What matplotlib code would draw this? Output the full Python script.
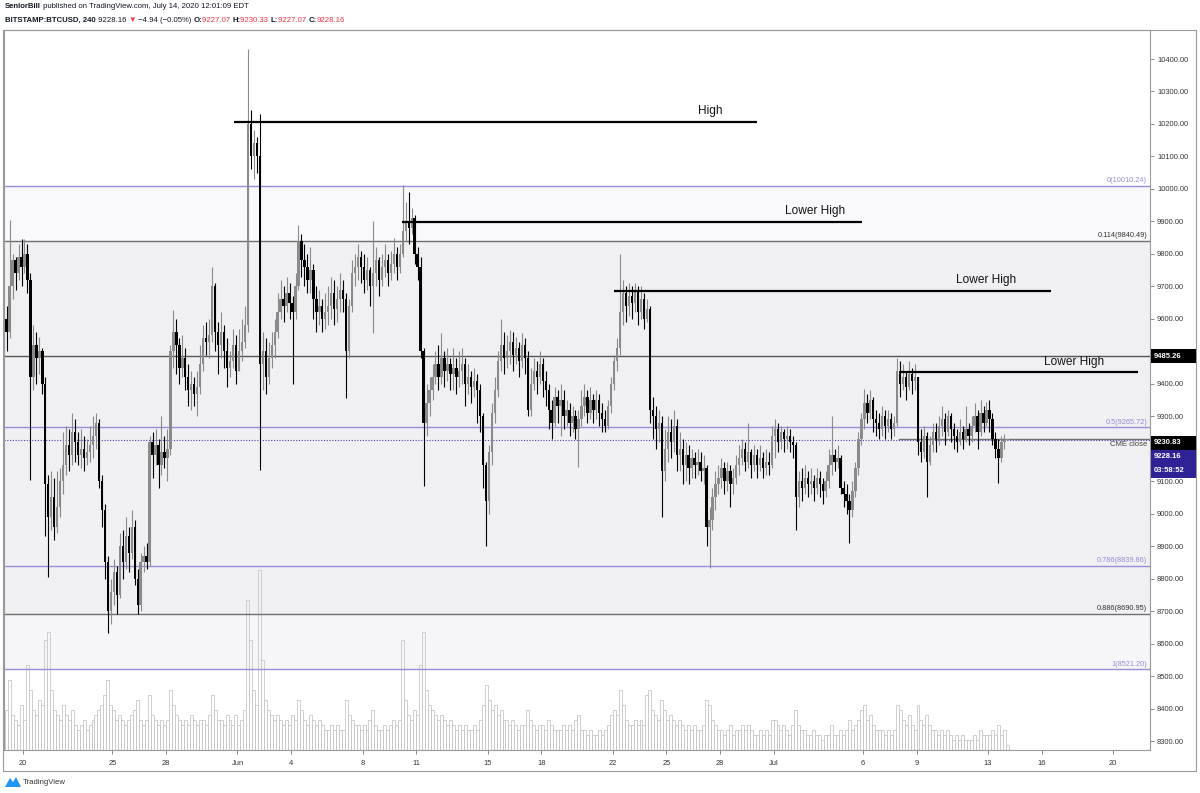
import matplotlib
matplotlib.use("Agg")
import matplotlib.pyplot as plt
import matplotlib.transforms as mtransforms
from matplotlib.patches import Rectangle, Polygon

plt.rcParams['font.family'] = ['Liberation Sans', 'DejaVu Sans']

W, H = 1200, 793

# BITSTAMP:BTCUSD, 240 -- 4h candles from May 19 00:00, six per day (one row = one day)
first_open = 9600
close = [
    9560, 9700, 9780, 9740, 9790, 9760,
    9800, 9720, 9420, 9520, 9480, 9500,
    9400, 9090, 8990, 9050, 8960, 9020,
    9100, 9150, 9210, 9180, 9250, 9220,
    9180, 9200, 9170, 9190, 9210, 9240,
    9280, 9100, 9010, 8850, 8700, 8760,
    8820, 8750, 8900, 8850, 8930, 8880,
    8960, 8800, 8720, 8850, 8870, 8850,
    9220, 9180, 9210, 9150, 9190, 9170,
    9200, 9500, 9560, 9520, 9450, 9480,
    9420, 9380, 9400, 9370, 9390, 9460,
    9540, 9530, 9550, 9700, 9560, 9520,
    9560, 9500, 9450, 9470, 9520, 9440,
    9500, 9530, 9580, 10200, 10100, 10140,
    10100, 9460, 9500, 9420, 9480, 9520,
    9560, 9620, 9660, 9640, 9680, 9650,
    9620, 9700, 9840, 9780, 9760, 9720,
    9750, 9660, 9620, 9640, 9600, 9620,
    9640, 9680, 9630, 9660, 9690, 9660,
    9500, 9640, 9740, 9760, 9790, 9760,
    9720, 9750, 9700, 9740, 9780, 9720,
    9760, 9780, 9740, 9770, 9800, 9760,
    9800, 9870, 9900, 9880, 9910, 9800,
    9760, 9500, 9280, 9340, 9380, 9420,
    9460, 9420, 9480, 9440, 9460, 9430,
    9450, 9420, 9440, 9460, 9400, 9420,
    9390, 9410, 9380, 9300, 9150, 9040,
    9190, 9310, 9380, 9470, 9520, 9480,
    9500, 9530, 9490, 9510, 9470, 9520,
    9480, 9320, 9400, 9440, 9420, 9460,
    9410, 9380, 9320, 9280, 9360, 9330,
    9350, 9300, 9320, 9280, 9300, 9260,
    9290, 9330, 9360, 9310, 9350, 9320,
    9350, 9310, 9290, 9270, 9330, 9400,
    9470, 9510, 9620, 9680, 9640, 9670,
    9650, 9690, 9620, 9660, 9600, 9630,
    9320, 9300, 9260, 9280, 9130, 9200,
    9250, 9220, 9270, 9180, 9200, 9150,
    9180, 9140, 9170, 9150, 9160, 9130,
    9140, 8960, 8980, 9050, 9090, 9110,
    9140, 9100, 9130, 9090, 9110, 9150,
    9170, 9200, 9160, 9190, 9150, 9180,
    9150, 9170, 9140, 9160, 9150, 9240,
    9260, 9220, 9250, 9230, 9240, 9220,
    9210, 9050, 9100, 9080, 9110, 9090,
    9100, 9080, 9110, 9090, 9070, 9100,
    9150, 9180, 9160, 9170, 9080, 9060,
    9040, 9010, 9070, 9140, 9230, 9290,
    9340, 9310, 9350, 9290, 9280, 9260,
    9300, 9270, 9290, 9260, 9280, 9440,
    9400, 9420, 9390, 9430, 9410, 9420,
    9220, 9190, 9240, 9160, 9210, 9250,
    9230, 9270, 9290, 9250, 9300, 9260,
    9240, 9220, 9250, 9230, 9260, 9240,
    9270, 9300, 9250, 9310, 9280, 9320,
    9290, 9230, 9200, 9170, 9220, 9227.07,
    9228.16,
]
high = [
    9640, 9905, 9800, 9790, 9830, 9846,
    9846, 9830, 9740, 9580, 9560, 9545,
    9510, 9420, 9120, 9130, 9110, 9130,
    9140, 9250, 9270, 9260, 9310, 9290,
    9250, 9260, 9240, 9230, 9270, 9300,
    9310, 9290, 9120, 9030, 8870, 8800,
    8860, 8840, 8940, 8950, 8990, 8960,
    9010, 8980, 8830, 8880, 8900, 8910,
    9240, 9250, 9260, 9230, 9300, 9240,
    9260, 9520, 9627, 9600, 9540, 9550,
    9510, 9460, 9440, 9420, 9440, 9520,
    9580, 9590, 9600, 9760, 9710, 9590,
    9620, 9580, 9540, 9500, 9570, 9550,
    9570, 9600, 9640, 10430, 10243, 10180,
    10160, 10230, 9560, 9540, 9530, 9560,
    9600, 9680, 9720, 9700, 9730, 9710,
    9670, 9740, 9890, 9860, 9830, 9800,
    9820, 9770, 9700, 9690, 9660, 9680,
    9700, 9730, 9720, 9700, 9740, 9720,
    9680, 9660, 9780, 9800, 9830, 9810,
    9800, 9790, 9760, 9900, 9820, 9790,
    9800, 9830, 9800, 9810, 9850, 9820,
    9830, 10012, 9960, 9990, 9940, 9920,
    9820, 9790, 9510, 9400, 9420, 9460,
    9500, 9520, 9556, 9500, 9510, 9480,
    9510, 9480, 9500, 9510, 9480, 9460,
    9440, 9450, 9430, 9400, 9310, 9160,
    9210, 9340, 9420, 9500, 9600, 9560,
    9550, 9565, 9560, 9545, 9530, 9555,
    9540, 9500, 9450, 9480, 9470, 9500,
    9480, 9440, 9400, 9350, 9390, 9380,
    9400, 9380, 9350, 9340, 9330, 9320,
    9320, 9380, 9400, 9380, 9390, 9370,
    9380, 9370, 9340, 9320, 9350, 9420,
    9490, 9540, 9800, 9720, 9700, 9710,
    9700, 9710, 9700, 9700, 9680, 9660,
    9640, 9360, 9330, 9320, 9300, 9260,
    9300, 9290, 9320, 9290, 9250, 9230,
    9220, 9210, 9200, 9190, 9200, 9190,
    9180, 9150, 9020, 9080, 9130, 9150,
    9170, 9160, 9160, 9150, 9140, 9180,
    9210, 9230, 9220, 9280, 9200, 9210,
    9200, 9210, 9190, 9200, 9190, 9270,
    9290, 9280, 9270, 9260, 9270, 9260,
    9240, 9220, 9130, 9140, 9150, 9130,
    9140, 9120, 9140, 9130, 9110, 9130,
    9200, 9300, 9200, 9210, 9180, 9100,
    9090, 9060, 9100, 9160, 9250, 9310,
    9385, 9370, 9380, 9360, 9320, 9310,
    9330, 9320, 9320, 9310, 9300, 9480,
    9470, 9460, 9440, 9470, 9450, 9460,
    9420, 9260, 9270, 9250, 9240, 9280,
    9280, 9300, 9330, 9310, 9320, 9310,
    9280, 9260, 9290, 9270, 9330, 9280,
    9300, 9340, 9320, 9350, 9330, 9345,
    9350, 9310, 9250, 9230, 9240, 9245,
    9230.33,
]
low = [
    9500, 9540, 9660, 9690, 9720, 9700,
    9740, 9680, 9105, 9380, 9400, 9430,
    9370, 8930, 8805, 8950, 8920, 8940,
    8990, 9060, 9120, 9130, 9150, 9160,
    9150, 9140, 9130, 9150, 9160, 9170,
    9200, 9080, 8960, 8800, 8632, 8660,
    8720, 8690, 8740, 8800, 8830, 8820,
    8860, 8780, 8690, 8700, 8820, 8830,
    8840, 9110, 9150, 9080, 9120, 9140,
    9100, 9180, 9450, 9430, 9400, 9420,
    9380, 9330, 9320, 9330, 9300, 9370,
    9440, 9490, 9480, 9530, 9500, 9430,
    9480, 9450, 9390, 9420, 9450, 9400,
    9460, 9470, 9510, 9560, 10060, 10030,
    10050, 9135, 9380, 9370, 9400, 9450,
    9480, 9540, 9600, 9590, 9620, 9600,
    9400, 9600, 9690, 9730, 9700, 9680,
    9680, 9600, 9560, 9580, 9560, 9570,
    9580, 9600, 9580, 9590, 9620, 9620,
    9356, 9480, 9620, 9700, 9720, 9710,
    9680, 9690, 9640, 9555, 9700, 9670,
    9700, 9730, 9700, 9720, 9740, 9720,
    9740, 9790, 9840, 9830, 9860, 9770,
    9720, 9480, 9085, 9240, 9300, 9350,
    9400, 9380, 9400, 9390, 9410, 9380,
    9380, 9370, 9390, 9400, 9330, 9370,
    9340, 9360, 9280, 9250, 9080, 8900,
    9000, 9150, 9280, 9360, 9440, 9430,
    9450, 9460, 9440, 9460, 9420, 9450,
    9430, 9300, 9300, 9380, 9370, 9400,
    9360, 9330, 9260, 9230, 9270, 9280,
    9240, 9260, 9270, 9240, 9250, 9230,
    9145, 9270, 9300, 9280, 9290, 9280,
    9290, 9270, 9250, 9250, 9260, 9310,
    9380, 9440, 9490, 9580, 9590, 9610,
    9600, 9620, 9580, 9600, 9570, 9590,
    9280, 9230, 9200, 9220, 8990, 9100,
    9160, 9170, 9190, 9130, 9130, 9090,
    9100, 9090, 9110, 9110, 9120, 9100,
    9090, 8900, 8833, 8950, 9010, 9060,
    9080, 9060, 9070, 9020, 9060, 9090,
    9120, 9150, 9130, 9140, 9110, 9130,
    9110, 9130, 9110, 9120, 9120, 9140,
    9170, 9190, 9200, 9190, 9200, 9190,
    9170, 8950, 9020, 9040, 9060, 9050,
    9060, 9040, 9060, 9050, 9030, 9050,
    9080, 9120, 9130, 9140, 9060, 9020,
    9000, 8910, 8990, 9050, 9120, 9210,
    9260, 9280, 9290, 9250, 9240, 9230,
    9240, 9230, 9250, 9230, 9240, 9270,
    9360, 9380, 9350, 9380, 9370, 9380,
    9180, 9160, 9170, 9050, 9150, 9190,
    9190, 9210, 9240, 9210, 9240, 9220,
    9200, 9190, 9210, 9200, 9220, 9210,
    9220, 9250, 9200, 9240, 9250, 9270,
    9250, 9210, 9170, 9095, 9160, 9200,
    9227.07,
]
# volume (relative units)
volume = [
    40, 70, 35, 30, 25, 45,
    30, 85, 60, 40, 35, 50,
    45, 110, 118, 60, 40, 35,
    30, 45, 35, 30, 40, 25,
    20, 25, 30, 20, 25, 30,
    35, 40, 45, 55, 70, 45,
    40, 30, 35, 30, 25, 30,
    35, 40, 50, 30, 25, 30,
    55, 35, 30, 25, 30, 25,
    30, 60, 45, 35, 30, 25,
    30, 25, 35, 30, 25, 30,
    30, 25, 35, 55, 40, 30,
    30, 25, 35, 30, 25, 35,
    25, 30, 40, 150, 110, 60,
    45, 180, 90, 50, 40, 35,
    30, 35, 30, 25, 30, 25,
    35, 30, 50, 40, 30, 25,
    35, 30, 25, 30, 25, 20,
    20, 25, 20, 25, 20, 20,
    50, 35, 30, 25, 25, 20,
    25, 20, 30, 40, 25, 20,
    20, 25, 20, 25, 30, 25,
    30, 110, 50, 35, 30, 40,
    35, 85, 118, 60, 45, 40,
    35, 30, 35, 30, 25, 30,
    25, 20, 25, 20, 25, 20,
    20, 25, 20, 30, 45, 65,
    50, 40, 45, 35, 40, 30,
    30, 25, 30, 25, 20, 25,
    25, 40, 30, 25, 20, 25,
    25, 20, 30, 25, 20, 20,
    20, 25, 20, 25, 20, 30,
    35, 20, 20, 15, 20, 15,
    15, 20, 15, 20, 25, 35,
    40, 35, 60, 45, 30, 25,
    25, 30, 25, 30, 25, 55,
    60, 40, 35, 30, 50, 40,
    30, 35, 30, 25, 30, 25,
    20, 25, 20, 25, 20, 20,
    25, 50, 45, 30, 25, 20,
    20, 15, 20, 25, 15, 20,
    20, 25, 20, 25, 20, 15,
    15, 20, 15, 20, 15, 30,
    30, 25, 20, 25, 20, 15,
    25, 40, 25, 20, 20, 15,
    15, 20, 15, 15, 10, 15,
    15, 25, 15, 15, 20, 15,
    20, 30, 20, 25, 30, 40,
    45, 30, 35, 25, 20, 20,
    20, 15, 20, 15, 20, 45,
    40, 30, 25, 35, 25, 20,
    45, 30, 25, 35, 25, 20,
    20, 15, 20, 15, 20, 15,
    10, 15, 10, 15, 10, 10,
    10, 15, 10, 20, 15, 15,
    15, 20, 15, 25, 15, 20,
    5,
]

# x axis: days counted from May 20
tick_days = [0, 5, 8, 12, 15, 19, 22, 26, 29, 33, 36, 39, 42, 47, 50, 54, 57, 61]
tick_labels = ['20', '25', '28', 'Jun', '4', '8', '11', '15', '18', '22', '25', '28',
               'Jul', '6', '9', '13', '16', '20']
price_ticks = list(range(8300, 10401, 100))
hidden_ticks = [9500, 9200]   # covered by the price boxes

# fibonacci retracement
fib_ratios = [0, 0.114, 0.5, 0.786, 0.886, 1]
fib_prices = [10010.24, 9840.49, 9265.72, 8839.86, 8690.95, 8521.20]
fib_colors = ['#9c8bd6', '#707070', '#9c8bd6', '#9c8bd6', '#707070', '#9c8bd6']
fib_fills = ['#f9f9fb', '#f0f0f3', '#f0f0f3', '#f0f0f3', '#f6f6f8']

# hand drawn levels: label, price, start day, end day, label day
drawn_labels = ['High', 'Lower High', 'Lower High', 'Lower High']
drawn_prices = [10206, 9898, 9686, 9436]
drawn_start = [11.8, 21.2, 33.1, 49.1]
drawn_end = [41.1, 46.95, 57.5, 62.4]
drawn_text_day = [38.45, 44.3, 53.9, 58.8]

resistance = 9485.26
cme_close = 9230.83
last_price = 9228.16
countdown = '03:58:52'

UP = '#8a8a8a'
DOWN = '#000000'
PURPLE_BOX = '#2f2295'

fig = plt.figure(figsize=(W / 100, H / 100), dpi=100)
fig.patch.set_facecolor('white')

def fx(px):
    return px / W

def fy(py):
    return 1 - py / H

left, right, top, bottom = 4, 1150, 30, 750
pos = [fx(left), fy(bottom), fx(right - left), (bottom - top) / H]
xlim = ((left - 23) / 17.87, (right - 23) / 17.87)
ylim = (8272.3, 10489.3)

# background axes: fib bands
bg = fig.add_axes(pos, zorder=-5)
bg.set_xlim(xlim)
bg.set_ylim(ylim)
bg.set_axis_off()
for i in range(len(fib_prices) - 1):
    bg.axhspan(fib_prices[i + 1], fib_prices[i], color=fib_fills[i], lw=0)

# volume axes, own scale
axv = fig.add_axes(pos, zorder=-4)
axv.set_xlim(xlim)
axv.set_ylim(0, bottom - top)
axv.set_axis_off()
xs = [-1 + i / 6 + 1 / 12 for i in range(len(close))]
axv.bar(xs, volume, width=1 / 6, facecolor='none', edgecolor='#c8c8c8', lw=0.6)

# main price axes
ax = fig.add_axes(pos, zorder=0)
ax.patch.set_visible(False)
ax.set_xlim(xlim)
ax.set_ylim(ylim)

for r, p, c in zip(fib_ratios, fib_prices, fib_colors):
    ax.axhline(p, color=c, lw=1.0, zorder=1)
    ax.text(0.9975, p + 5, '%g(%.2f)' % (r, p), transform=ax.get_yaxis_transform(),
            ha='right', va='bottom', fontsize=5.3, color=c if c != '#707070' else '#333333',
            zorder=6)

# candles
opens = [first_open] + close[:-1]
for x, o, c, h, l in zip(xs, opens, close, high, low):
    col = UP if c >= o else DOWN
    ax.vlines(x, min(l, o, c), max(h, o, c), color=col, lw=0.8, zorder=3)
    b0, b1 = min(o, c), max(o, c)
    if b1 - b0 < 3:
        b1 = b0 + 3
    ax.bar(x, b1 - b0, bottom=b0, width=0.13, color=col, lw=0, zorder=3)

# horizontal levels
ax.axhline(resistance, color='#555555', lw=1.0, zorder=2)
ax.axhline(last_price, color='#4a3fb5', lw=0.8, ls=(0, (1, 1.5)), zorder=2)
ax.plot([49.0, xlim[1]], [cme_close, cme_close], color='#6f6f6f', lw=1.0, zorder=2)
ax.text(0.9975, cme_close - 6, 'CME close', transform=ax.get_yaxis_transform(),
        ha='right', va='top', fontsize=5.6, color='#444444', zorder=6)

# drawn high / lower high lines
for lab, p, s, e, t in zip(drawn_labels, drawn_prices, drawn_start, drawn_end, drawn_text_day):
    ax.plot([s, e], [p, p], color='black', lw=1.6, solid_capstyle='butt', zorder=5)
    ax.text(t, p + 14, lab, ha='center', va='bottom', fontsize=8.6, color='#131313', zorder=6)

# axes styling
for side in ['left', 'top', 'right', 'bottom']:
    ax.spines[side].set_color('#9a9a9a')
    ax.spines[side].set_linewidth(0.8)
ax.yaxis.tick_right()
ax.set_yticks(price_ticks)
ax.set_yticklabels(['' if v in hidden_ticks else '%.2f' % v for v in price_ticks])
ax.set_xticks(tick_days)
ax.set_xticklabels(tick_labels)
ax.tick_params(axis='y', length=3, width=0.6, color='#777777', labelsize=5.4,
               labelcolor='#333333', pad=2)
ax.tick_params(axis='x', length=3, width=0.6, color='#777777', labelsize=5.4,
               labelcolor='#333333', pad=4)

# price boxes on the right scale
blend = mtransforms.blended_transform_factory(fig.transFigure, ax.transData)
ppx = (ylim[1] - ylim[0]) / (bottom - top)

def price_box(price, text, color, dy=0):
    y0 = price - 7 * ppx + dy * ppx
    fig.add_artist(Rectangle((fx(right + 1), y0), fx(45), 14 * ppx, transform=blend,
                             facecolor=color, edgecolor='none', zorder=5))
    fig.text(fx(right + 4), y0 + 7 * ppx, text, transform=blend, ha='left', va='center',
             fontsize=5.5, color='white', fontweight='bold', zorder=6)

price_box(resistance, '9485.26', 'black')
price_box(cme_close, '9230.83', 'black', dy=-4)
price_box(last_price, '9228.16', PURPLE_BOX, dy=-17)
price_box(last_price, countdown, PURPLE_BOX, dy=-31)

# outer frame
fig.add_artist(Rectangle((fx(3), fy(771)), fx(1193), (771 - 30) / H, transform=fig.transFigure,
                         facecolor='none', edgecolor='#9a9a9a', lw=0.8, zorder=0))

# header with mixed styles
renderer = fig.canvas.get_renderer()

def run_text(x, y, parts):
    for txt, color, weight in parts:
        t = fig.text(fx(x), fy(y), txt, fontsize=5.6, color=color, fontweight=weight,
                     va='center', ha='left')
        bb = t.get_window_extent(renderer=renderer)
        x += bb.width

RED = '#f23645'
run_text(5, 7, [('SeniorBill', '#131722', 'bold'),
                (' published on TradingView.com, July 14, 2020 12:01:09 EDT', '#131722', 'normal')])
run_text(5, 20, [('BITSTAMP:BTCUSD, 240', '#131722', 'bold'),
                 (' 9228.16 ', '#131722', 'normal'),
                 ('\u25bc', RED, 'normal'),
                 (' \u22124.94 (\u22120.05%) ', '#131722', 'normal'),
                 ('O:', '#131722', 'bold'), ('9227.07 ', RED, 'normal'),
                 ('H:', '#131722', 'bold'), ('9230.33 ', RED, 'normal'),
                 ('L:', '#131722', 'bold'), ('9227.07 ', RED, 'normal'),
                 ('C:', '#131722', 'bold'), ('9228.16', RED, 'normal')])

# TradingView logo
fig.add_artist(Polygon([(fx(5), fy(787)), (fx(10), fy(778)), (fx(13), fy(782)),
                        (fx(16), fy(777)), (fx(21), fy(787))],
                       closed=True, transform=fig.transFigure, facecolor='#2196f3',
                       edgecolor='none'))
fig.text(fx(23), fy(783), 'TradingView', fontsize=5.6, color='#333333', va='center', ha='left')

fig.savefig('out.png', dpi=100, facecolor='white')
